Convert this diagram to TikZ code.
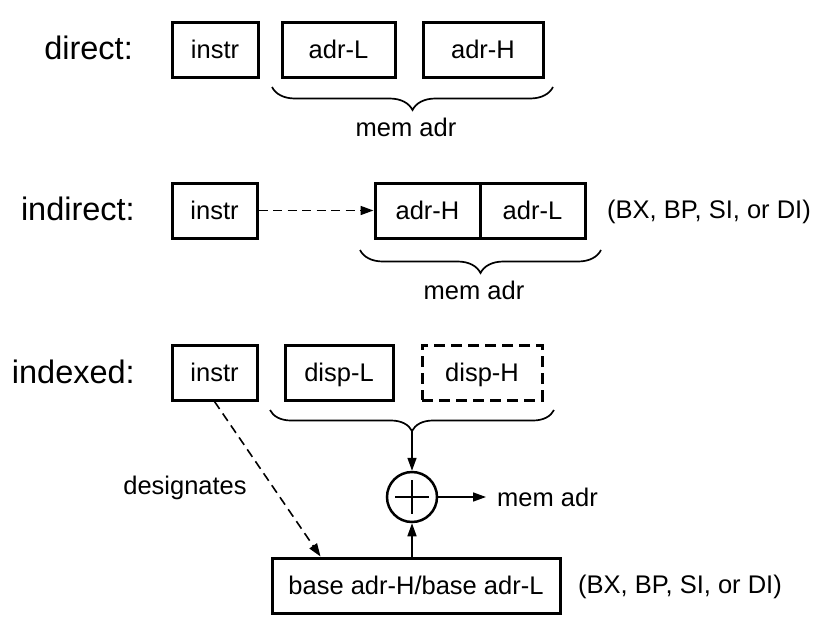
\documentclass[tikz,border=0pt]{standalone}
\usepackage{fontspec}
\setmainfont{Liberation Sans}
\usetikzlibrary{arrows.meta,decorations.pathreplacing,calc}
\begin{document}
\begin{tikzpicture}[x=1pt,y=-1pt,
  box/.style={draw, line width=3pt, inner sep=0pt, font=\fontsize{25.5}{30}\selectfont,
    text height=18.3pt, text depth=0pt, minimum height=55pt},
  lab/.style={font=\fontsize{32.5}{38}\selectfont, anchor=east, inner sep=0pt},
  txt/.style={font=\fontsize{25.5}{30}\selectfont, inner sep=0pt},
  arr/.style={line width=1.6pt, -{Triangle[length=13pt,width=9pt]}},
  dsh/.style={dash pattern=on 9pt off 5.5pt},
  brc/.style={decorate, decoration={brace, amplitude=#1, mirror}, line width=1.7pt},
]
\useasboundingbox (0,0) rectangle (822,616);

% direct
\node[lab] (ldirect) at (133,48) {direct:};
\node[box, minimum width=86pt] (i1) at (215,49.5) {instr};
\node[box, minimum width=113pt] (l1) at (338.5,49.5) {adr-L};
\node[box, minimum width=120pt] (h1) at (483,49.5) {adr-H};
\draw[brc=23pt] (272,87) -- (553,87);
\node[txt] (m1) at (406,127) {mem adr};

% indirect
\node[lab] (lindirect) at (135,208.5) {indirect:};
\node[box, minimum width=85pt] (i2) at (214.5,210.5) {instr};
\node[box, minimum width=105pt] (h2) at (427.5,210.5) {adr-H};
\node[box, minimum width=105pt] (l2) at (532.5,210.5) {adr-L};
\node[txt, anchor=west] (r2) at (607,212) {(BX, BP, SI, or DI)};
\draw[arr, dsh] (i2.east) -- (h2.west);
\draw[brc=23pt] (360,250) -- (601,250);
\node[txt] (m2) at (474,290) {mem adr};

% indexed
\node[lab] (lindexed) at (135,372) {indexed:};
\node[box, minimum width=85pt] (i3) at (214.5,372.5) {instr};
\node[box, minimum width=108pt] (d3) at (339,372.5) {disp-L};
\node[box, minimum width=120pt, dash pattern=on 11pt off 6pt] (e3) at (482,372.5) {disp-H};
\draw[brc=21pt] (270,410) -- (554,410);
\coordinate (btip) at (412,431);
\node[circle, draw, line width=2.5pt, minimum size=50pt, inner sep=0pt] (plus) at (412,497) {};
\draw[line width=2.5pt] ($(plus.center)+(-17,0)$) -- ($(plus.center)+(17,0)$);
\draw[line width=2.5pt] ($(plus.center)+(0,-17)$) -- ($(plus.center)+(0,17)$);
\node[txt, anchor=west] (m3) at (497,497) {mem adr};
\node[box, minimum width=288pt] (base) at (416,585.5) {base adr-H/base adr-L};
\node[txt, anchor=west] (r3) at (578,587) {(BX, BP, SI, or DI)};
\node[txt] (desig) at (185,488) {designates};
\draw[arr] (btip) -- (plus.north);
\draw[arr, shorten >=11pt] (plus.east) -- (m3.west);
\draw[arr] (plus |- base.north) -- (plus.south);
\draw[arr, dsh] (i3.south) -- ($(base.north west)+(50,0)$);
\end{tikzpicture}
\end{document}
